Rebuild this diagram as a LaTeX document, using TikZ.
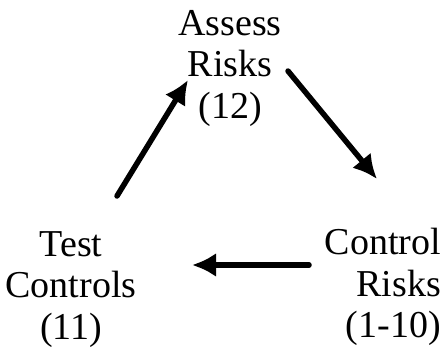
\documentclass[tikz,border=0pt]{standalone}
\usepackage{fontspec}
\setmainfont{Liberation Serif}
\usetikzlibrary{arrows.meta}

\begin{document}
\begin{tikzpicture}[x=1pt,y=-1pt,every node/.style={inner sep=0pt,font=\fontsize{38}{41.5}\selectfont},
                    step arrow/.style={-{Latex[length=24pt,width=24pt]},line width=5.5pt,line cap=round}]
		\useasboundingbox (0,0) rectangle (444,349);
		\node (assess)  [anchor=north,align=center] at (230,10) {Assess\\Risks\\(12)};
		\node (control) [anchor=north east,align=right] at (441,228) {Control\\Risks\\(1-10)};
		\node (test)    [anchor=north,align=center] at (71,231) {Test\\Controls\\(11)};
		%% arrow ends
		\coordinate (a1) at (288,71);
		\coordinate (c1) at (377,179);
		\coordinate (c2) at (309,265);
		\coordinate (t2) at (192,265);
		\coordinate (t3) at (117,196);
		\coordinate (a3) at (188,80);
		\draw[step arrow] (a1) -- (c1);
		\draw[step arrow] (c2) -- (t2);
		\draw[step arrow] (t3) -- (a3);
	\end{tikzpicture}
\end{document}
